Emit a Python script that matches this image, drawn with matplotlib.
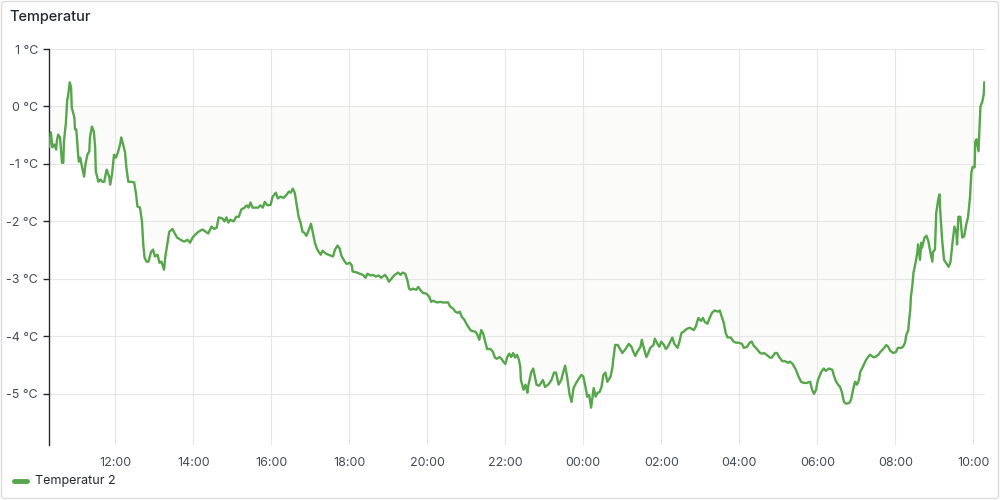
import matplotlib
matplotlib.use("Agg")
import matplotlib.pyplot as plt
import matplotlib.dates as mdates
from matplotlib.patches import FancyBboxPatch
from matplotlib.lines import Line2D
import pandas as pd

plt.rcParams['font.family'] = ['Inter', 'DejaVu Sans']

# ---- data ----
start_time = "2024-01-15 10:18"
window_minutes = 1440
series_name = "Temperatur 2"
title = "Temperatur"

minutes = [
    0, 3, 5, 8, 11, 12, 14, 17, 20, 22, 23, 26, 28, 29, 32, 34, 35, 39, 40, 42,
    45, 46, 48, 51, 54, 56, 59, 62, 63, 66, 69, 71, 72, 76, 79, 82, 85, 88, 89, 93,
    94, 97, 100, 103, 106, 110, 111, 114, 117, 119, 122, 126, 131, 134, 136, 140, 143, 145, 147, 150,
    153, 157, 160, 163, 167, 170, 173, 177, 179, 182, 185, 190, 193, 197, 204, 208, 213, 217, 221, 225,
    230, 236, 241,
    245, 250, 254, 258, 261, 267, 270, 273, 276, 279, 284, 288, 292, 296, 301, 304, 307, 310, 313, 318,
    322, 325, 329, 332, 336, 341, 344, 349, 352, 356, 361, 366, 369, 372, 375, 378, 381, 384, 387, 390,
    393, 396, 400, 403, 406, 409, 412, 415, 418, 421, 426, 430, 437, 440, 444, 447, 450, 455, 458, 463,
    466, 467, 474, 478, 483, 487,
    490, 495, 498, 503, 507, 511, 517, 520, 523, 528, 532, 537, 541, 544, 548, 551, 554, 557, 560, 565,
    568, 571, 575, 581, 585, 588, 591, 597, 602, 606, 611, 614, 617, 622, 625, 629, 632, 635, 639, 643,
    646, 649, 656, 659, 662, 665, 668, 671, 674, 679, 683, 686, 689, 693, 696, 699, 702, 705, 708, 711,
    714, 717, 720, 723, 725, 726, 730, 733, 736,
    737, 742, 745, 750, 754, 760, 763, 768, 773, 777, 780, 784, 788, 791, 794, 797, 801, 804, 807, 811,
    816, 819, 822, 825, 828, 831, 834, 838, 841, 844, 847, 850, 853, 856, 859, 864, 867, 868, 871, 875,
    879, 882, 887, 892, 896, 899, 902, 905, 910, 912, 915, 919, 922, 925, 930, 932, 936, 939, 942, 946,
    949, 952, 956, 959, 962, 967, 970, 973, 976, 981,
    986, 992, 995, 999, 1003, 1006, 1009, 1013, 1016, 1020, 1024, 1029, 1032, 1035, 1038, 1041, 1044, 1049, 1053, 1057,
    1061, 1066, 1069, 1074, 1078, 1081, 1084, 1089, 1094, 1097, 1100, 1104, 1109, 1112, 1117, 1120, 1124, 1128, 1132, 1137,
    1140, 1144, 1149, 1152, 1157, 1161, 1166, 1171, 1174, 1177, 1180, 1183, 1188, 1192, 1195, 1200, 1205, 1208, 1211, 1214,
    1217, 1218, 1220, 1223, 1226, 1231,
    1234, 1237, 1240, 1243, 1246, 1248, 1252, 1257, 1260, 1263, 1268, 1271, 1276, 1279, 1285, 1288, 1291, 1294, 1299, 1303,
    1306, 1311, 1314, 1317, 1319, 1322, 1323, 1325, 1326, 1328, 1330, 1331, 1334, 1336, 1337, 1340, 1342, 1343, 1347, 1350,
    1353, 1356, 1359, 1360, 1363, 1365, 1368, 1370, 1371, 1374, 1377, 1380, 1384, 1387, 1390, 1393, 1396, 1397, 1399, 1402,
    1405, 1408, 1411, 1414, 1417, 1419, 1421, 1424, 1425, 1427, 1430, 1431, 1433, 1436, 1438, 1439,
]

temperature = [
    -0.70, -0.45, -0.71, -0.66, -0.75, -0.61, -0.49, -0.54, -0.98, -0.98, -0.61, -0.28, 0.12, 0.16, 0.42, 0.33, -0.02, -0.19, -0.40, -0.40,
    -0.87, -0.96, -0.89, -1.06, -1.22, -1.01, -0.84, -0.78, -0.54, -0.35, -0.44, -0.71, -1.13, -1.31, -1.27, -1.31, -1.31, -1.13, -1.10, -1.24,
    -1.36, -1.18, -0.84, -0.89, -0.80, -0.63, -0.54, -0.66, -0.80, -1.06, -1.31, -1.31, -1.32, -1.53, -1.74, -1.76, -2.00, -2.40, -2.63, -2.70,
    -2.70, -2.53, -2.49, -2.61, -2.58, -2.72, -2.70, -2.84, -2.61, -2.40, -2.18, -2.13, -2.20, -2.28, -2.33, -2.35, -2.32, -2.37, -2.28, -2.23,
    -2.18, -2.14, -2.18,
    -2.21, -2.09, -2.13, -2.11, -1.93, -1.95, -2.00, -1.93, -2.02, -1.97, -2.00, -1.92, -1.92, -1.79, -1.76, -1.72, -1.76, -1.67, -1.76, -1.76,
    -1.76, -1.72, -1.76, -1.66, -1.72, -1.71, -1.57, -1.50, -1.60, -1.57, -1.59, -1.53, -1.48, -1.50, -1.43, -1.50, -1.71, -1.92, -2.02, -2.18,
    -2.20, -2.25, -2.14, -2.04, -2.20, -2.37, -2.47, -2.53, -2.58, -2.51, -2.56, -2.58, -2.61, -2.49, -2.42, -2.47, -2.60, -2.70, -2.74, -2.72,
    -2.77, -2.87, -2.89, -2.91, -2.93, -2.98,
    -2.91, -2.94, -2.93, -2.96, -2.94, -2.98, -2.93, -2.98, -3.05, -2.98, -2.93, -2.89, -2.93, -2.89, -2.91, -3.01, -3.17, -3.19, -3.17, -3.19,
    -3.14, -3.19, -3.24, -3.26, -3.31, -3.40, -3.38, -3.41, -3.40, -3.41, -3.41, -3.41, -3.48, -3.52, -3.57, -3.59, -3.57, -3.66, -3.71, -3.80,
    -3.85, -3.90, -3.92, -3.97, -4.06, -3.89, -3.95, -4.09, -4.22, -4.22, -4.27, -4.37, -4.39, -4.36, -4.39, -4.44, -4.48, -4.36, -4.30, -4.36,
    -4.29, -4.37, -4.32, -4.41, -4.53, -4.76, -4.93, -4.84, -4.98,
    -4.88, -4.62, -4.56, -4.84, -4.86, -4.76, -4.88, -4.84, -4.76, -4.63, -4.63, -4.84, -4.76, -4.63, -4.51, -4.70, -5.02, -5.14, -4.90, -4.81,
    -4.72, -4.67, -4.70, -4.86, -5.05, -5.02, -5.24, -4.90, -5.05, -4.98, -4.97, -4.88, -4.67, -4.63, -4.79, -4.70, -4.53, -4.41, -4.15, -4.15,
    -4.23, -4.29, -4.22, -4.13, -4.18, -4.27, -4.34, -4.27, -4.18, -4.06, -4.20, -4.36, -4.29, -4.20, -4.15, -4.04, -4.13, -4.18, -4.09, -4.15,
    -4.22, -4.18, -4.09, -4.02, -4.13, -4.20, -4.09, -3.94, -3.92, -3.87,
    -3.85, -3.89, -3.83, -3.68, -3.73, -3.68, -3.75, -3.78, -3.69, -3.59, -3.55, -3.57, -3.55, -3.66, -3.76, -3.94, -4.02, -4.02, -4.09, -4.11,
    -4.11, -4.13, -4.20, -4.18, -4.11, -4.09, -4.16, -4.22, -4.29, -4.30, -4.29, -4.32, -4.37, -4.37, -4.29, -4.29, -4.37, -4.43, -4.43, -4.46,
    -4.44, -4.48, -4.58, -4.67, -4.79, -4.81, -4.81, -4.79, -4.93, -5.00, -4.93, -4.76, -4.62, -4.56, -4.60, -4.56, -4.58, -4.70, -4.79, -4.84,
    -4.88, -4.91, -4.98, -5.14, -5.17, -5.16,
    -5.10, -4.93, -4.79, -4.84, -4.76, -4.62, -4.53, -4.41, -4.36, -4.32, -4.36, -4.36, -4.32, -4.27, -4.20, -4.15, -4.18, -4.25, -4.29, -4.27,
    -4.20, -4.20, -4.18, -4.11, -3.97, -3.89, -3.75, -3.54, -3.31, -3.14, -2.89, -2.84, -2.67, -2.53, -2.40, -2.67, -2.37, -2.46, -2.28, -2.25,
    -2.35, -2.54, -2.70, -2.53, -2.49, -1.85, -1.62, -1.53, -1.79, -2.32, -2.67, -2.72, -2.79, -2.70, -2.37, -2.09, -2.20, -2.40, -1.92, -1.92,
    -2.28, -2.26, -2.06, -1.92, -1.57, -1.15, -1.05, -1.06, -0.61, -0.57, -0.78, -0.52, 0.00, 0.09, 0.21, 0.42,
]

y_ticks = [1, 0, -1, -2, -3, -4, -5]
y_range = (-5.89, 1.0)

# ---- styling ----
line_color = "#56a64b"
fill_color = "#fbfbf9"
grid_color = "#e6e6e6"
text_color = "#24292e"
tick_color = "#464c54"

t0 = pd.Timestamp(start_time)
times = t0 + pd.to_timedelta(minutes, unit="m")

fig = plt.figure(figsize=(10, 5), dpi=100)
fig.patch.set_facecolor("white")

# panel border
border = FancyBboxPatch((0.0015, 0.003), 0.997, 0.994, boxstyle="round,pad=0,rounding_size=0.004",
                        transform=fig.transFigure, facecolor="white", edgecolor="#dcdcdc",
                        linewidth=1.0, zorder=-10)
fig.patches.append(border)

ax = fig.add_axes([0.049, 0.11, 0.936, 0.792])
ax.set_facecolor("none")

ax.fill_between(times, temperature, 0, color=fill_color, linewidth=0, zorder=1)
ax.plot(times, temperature, color=line_color, linewidth=1.7, zorder=3, solid_joinstyle="round")

ax.set_xlim(t0, t0 + pd.Timedelta(minutes=window_minutes))
ax.set_ylim(*y_range)

ax.set_yticks(y_ticks)
ax.set_yticklabels([f"{v} °C" for v in y_ticks])
ax.xaxis.set_major_locator(mdates.HourLocator(byhour=range(0, 24, 2)))
ax.xaxis.set_major_formatter(mdates.DateFormatter("%H:%M"))

ax.grid(True, color=grid_color, linewidth=0.8, zorder=0)
for s in ["top", "right", "bottom"]:
    ax.spines[s].set_visible(False)
ax.spines["left"].set_color("#24292e")
ax.spines["left"].set_linewidth(1.0)

ax.tick_params(axis="y", length=4, width=1, color="#24292e", labelsize=9, labelcolor=tick_color, pad=4)
ax.tick_params(axis="x", length=0, labelsize=9, labelcolor=tick_color, pad=9)

fig.text(0.009, 0.966, title, fontsize=10.5, fontweight="medium", color=text_color, va="center", ha="left")

# legend
fig.add_artist(Line2D([0.014, 0.027], [0.038, 0.038], transform=fig.transFigure,
                      color=line_color, linewidth=3.5, solid_capstyle="round"))
fig.text(0.035, 0.038, series_name, fontsize=9, color=text_color, va="center", ha="left")

fig.savefig("out.png", dpi=100, facecolor="white")
